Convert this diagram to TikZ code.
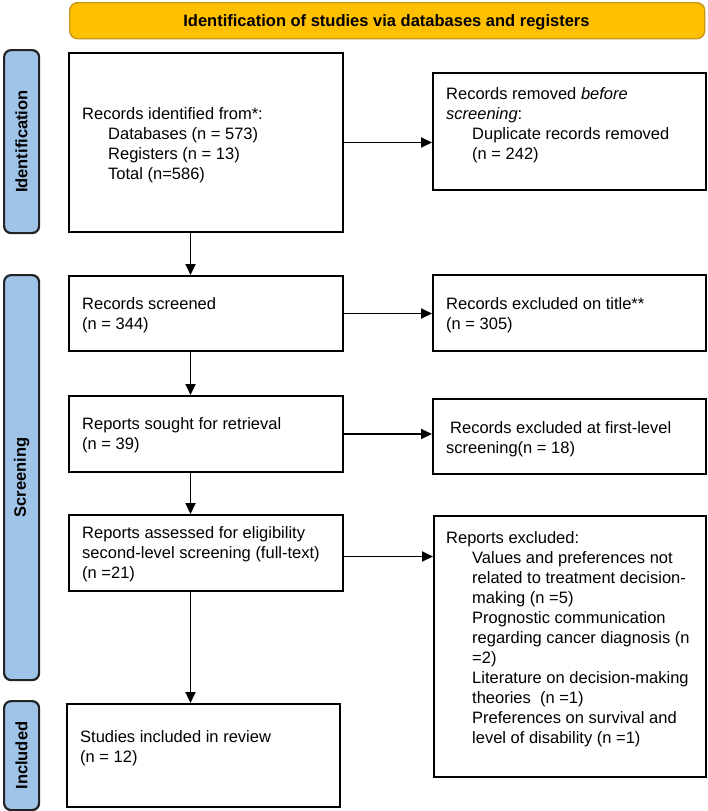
\documentclass[tikz,border=0pt]{standalone}
\usepackage{fontspec}
\setmainfont{Liberation Sans}
\usetikzlibrary{arrows.meta}
\definecolor{hdrfill}{RGB}{255,192,0}
\definecolor{hdrline}{RGB}{200,150,20}
\definecolor{barfill}{RGB}{160,196,232}
\definecolor{barline}{RGB}{35,35,35}
\tikzset{
  box/.style={draw, line width=2pt, inner sep=0pt, anchor=north west, rectangle},
  bar/.style={draw=barline, fill=barfill, line width=2.2pt, rounded corners=7pt, inner sep=0pt, anchor=north west, rectangle},
  txt/.style={anchor=north west, inner sep=0pt, align=left},
  side/.style={rotate=90, inner sep=0pt, font=\fontsize{16.5}{20}\selectfont\bfseries},
  arr/.style={-{Triangle[length=11pt,width=10pt]}, line width=1.8pt},
}
\newcommand{\ind}{\hspace*{26pt}}
\begin{document}
\begin{tikzpicture}[x=1pt,y=-1pt,font=\fontsize{16.5}{20}\selectfont]
\useasboundingbox (0,0) rectangle (708,811);
\fill[white] (0,0) rectangle (708,811);

% header
\node[draw=hdrline, fill=hdrfill, rounded corners=8pt, line width=1.4pt,
      minimum width=635pt, minimum height=36pt, anchor=north west, inner sep=0pt] (hdr) at (69,2) {};
\node[anchor=base, inner sep=0pt, font=\fontsize{16.5}{20}\selectfont\bfseries] (hdrtxt) at (386.5,26)
  {Identification of studies via databases and registers};

% side bars
\node[bar, minimum width=35pt, minimum height=183pt] (idbar) at (3,49) {};
\node[side] (idlbl) at (idbar.center) {Identification};
\node[bar, minimum width=35pt, minimum height=405pt] (scbar) at (3,274) {};
\node[side] (sclbl) at (scbar.center) {Screening};
\node[bar, minimum width=35pt, minimum height=109pt] (inbar) at (3,700) {};
\node[side] (inlbl) at (inbar.center) {Included};

% boxes
\node[box, minimum width=274pt, minimum height=179pt] (b1) at (68,52) {};
\node[box, minimum width=273pt, minimum height=117pt] (rem) at (432,72) {};
\node[box, minimum width=274pt, minimum height=75pt] (scr) at (68,275) {};
\node[box, minimum width=273pt, minimum height=76pt] (ttl) at (432,274) {};
\node[box, minimum width=274pt, minimum height=76pt] (sgt) at (68,395) {};
\node[box, minimum width=273pt, minimum height=75pt] (fst) at (432,398) {};
\node[box, minimum width=274pt, minimum height=76pt] (ass) at (68,514) {};
\node[box, minimum width=272pt, minimum height=261pt] (rex) at (433,515) {};
\node[box, minimum width=273pt, minimum height=103pt] (stu) at (66,703) {};

% texts
\node[txt] (t1) at (82,105) {\strut Records identified from*:\\ \ind Databases (n = 573)\\ \ind Registers (n = 13)\\ \ind Total (n=586)};
\node[txt] (trem) at (446,85) {\strut Records removed \textit{before}\\ \textit{screening}:\\ \ind Duplicate records removed\\ \ind (n = 242)};
\node[txt] (tscr) at (82,295) {\strut Records screened\\ (n = 344)};
\node[txt] (tttl) at (446,295) {\strut Records excluded on title**\\ (n = 305)};
\node[txt] (tsgt) at (82,415) {\strut Reports sought for retrieval\\ (n = 39)};
\node[txt] (tfst) at (446,419) {\strut\hspace*{4pt}Records excluded at first-level\\ screening(n = 18)};
\node[txt] (tass) at (82,524) {\strut Reports assessed for eligibility\\ second-level screening (full-text)\\ (n =21)};
\node[txt] (trex) at (446,529) {\strut Reports excluded:\\ \ind Values and preferences not\\ \ind related to treatment decision-\\ \ind making (n =5)\\ \ind Prognostic communication\\ \ind regarding cancer diagnosis (n\\ \ind =2)\\ \ind Literature on decision-making\\ \ind theories\ \ (n =1)\\ \ind Preferences on survival and\\ \ind level of disability (n =1)};
\node[txt] (tstu) at (80,728) {\strut Studies included in review\\ (n = 12)};

% connectors
\coordinate (vx) at (190.5,0);
\draw[arr] (b1.south -| vx) -- (scr.north -| vx);
\draw[arr] (scr.south -| vx) -- (sgt.north -| vx);
\draw[arr] (sgt.south -| vx) -- (ass.north -| vx);
\draw[arr] (ass.south -| vx) -- (stu.north -| vx);
\draw[arr] (b1.east) -- (b1.east -| rem.west);
\draw[arr] (scr.east) -- (scr.east -| ttl.west);
\draw[arr] (sgt.east) -- (sgt.east -| fst.west);
\draw[arr] ([yshift=-3.5pt]ass.east) -- ([yshift=-3.5pt]ass.east -| rex.west);
\end{tikzpicture}
\end{document}
